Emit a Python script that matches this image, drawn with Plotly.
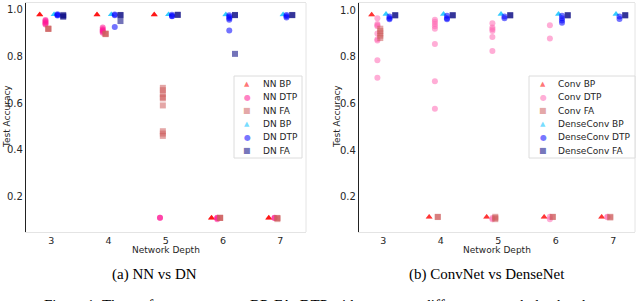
import plotly.graph_objects as go

# ---------------- data ----------------
depths = [3, 4, 5, 6, 7]

# Left panel: NN vs DN (accuracy runs per depth)
nn_bp = [[0.977, 0.977, 0.978], [0.977, 0.977, 0.978], [0.977, 0.977, 0.978], [0.11, 0.11, 0.111], [0.11, 0.11, 0.111]]
nn_dtp = [[0.955, 0.95, 0.945, 0.94, 0.935], [0.922, 0.915, 0.91, 0.905, 0.9], [0.111, 0.111], [0.111, 0.11, 0.104], [0.111, 0.11]]
nn_fa = [[0.918, 0.917, 0.916], [0.897, 0.895, 0.894], [0.665, 0.655, 0.64, 0.625, 0.62, 0.59, 0.48, 0.47, 0.46], [0.111, 0.11, 0.11], [0.11, 0.105, 0.11]]
dn_bp = [[0.978, 0.978], [0.978, 0.978], [0.978, 0.978], [0.978, 0.977], [0.978, 0.977]]
dn_dtp = [[0.979, 0.976, 0.974], [0.978, 0.975, 0.925], [0.977, 0.972, 0.97], [0.975, 0.968, 0.962, 0.956, 0.91], [0.976, 0.97, 0.965]]
dn_fa = [[0.976, 0.972, 0.968], [0.976, 0.975, 0.95], [0.977, 0.976], [0.976, 0.975, 0.81], [0.976, 0.975]]

# Right panel: ConvNet vs DenseNet
conv_bp = [[0.98, 0.98], [0.114, 0.114], [0.114, 0.114], [0.114, 0.114], [0.114, 0.114]]
conv_dtp = [[0.965, 0.94, 0.935, 0.93, 0.9, 0.875, 0.87, 0.785, 0.71],
            [0.958, 0.95, 0.94, 0.93, 0.92, 0.855, 0.695, 0.577],
            [0.943, 0.925, 0.918, 0.91, 0.885, 0.825, 0.105, 0.11],
            [0.935, 0.878, 0.105, 0.115],
            [0.115, 0.113]]
conv_fa = [[0.92, 0.91, 0.9, 0.89, 0.88], [0.115, 0.114], [0.115, 0.11, 0.105], [0.115, 0.114], [0.115, 0.112]]
dc_bp = [[0.983, 0.982], [0.983, 0.982], [0.983, 0.982], [0.983, 0.982], [0.983, 0.982]]
dc_dtp = [[0.972, 0.965, 0.96], [0.975, 0.965, 0.96], [0.972, 0.965], [0.975, 0.965, 0.955, 0.945], [0.972, 0.962]]
dc_fa = [[0.978, 0.977], [0.978, 0.977], [0.978, 0.977], [0.978, 0.977], [0.978, 0.977]]

left_names = ["NN BP", "NN DTP", "NN FA", "DN BP", "DN DTP", "DN FA"]
right_names = ["Conv BP", "Conv DTP", "Conv FA", "DenseConv BP", "DenseConv DTP", "DenseConv FA"]
y_ticks = [0.2, 0.4, 0.6, 0.8, 1.0]

# ---------------- style ----------------
offsets = [-0.2, -0.1, -0.05, 0.05, 0.11, 0.21]
symbols = ["triangle-up", "circle", "square", "triangle-up", "circle", "square"]
left_colors = ["#ff0000", "#ff1493", "#cd5c5c", "#00bfff", "#0000ff", "#000080"]
right_colors = ["#ff0000", "#ff69b4", "#cd5c5c", "#00bfff", "#0000ff", "#000080"]
OP = 0.55

W, H = 640, 301
fig = go.Figure()

def add_panel(series, colors, xa, ya):
    for i, runs in enumerate(series):
        xs, ys = [], []
        for d, vals in zip(depths, runs):
            for v in vals:
                xs.append(d + offsets[i])
                ys.append(v)
        fig.add_trace(go.Scatter(
            x=xs, y=ys, mode="markers", xaxis=xa, yaxis=ya, showlegend=False,
            marker=dict(symbol=symbols[i], size=6, color=colors[i], opacity=OP,
                        line=dict(width=0)),
        ))

add_panel([nn_bp, nn_dtp, nn_fa, dn_bp, dn_dtp, dn_fa], left_colors, "x", "y")
add_panel([conv_bp, conv_dtp, conv_fa, dc_bp, dc_dtp, dc_fa], right_colors, "x2", "y2")

def px(x):
    return x / W

def py(y):
    return 1 - y / H

L = (26, 306)
R = (359, 635)
TOP, BOT = 3, 232

tickfont = dict(family="DejaVu Sans", size=10, color="#262626")
xtickfont = dict(family="DejaVu Sans", size=9.5, color="#262626")
ax_common = dict(showgrid=False, zeroline=False, ticks="")

fig.update_layout(
    width=W, height=H, margin=dict(l=0, r=0, t=0, b=0),
    paper_bgcolor="white", plot_bgcolor="white",
    xaxis=dict(domain=[px(L[0]), px(L[1])], range=[2.56, 7.45], tickvals=depths, tickfont=xtickfont,
               showline=True, linecolor="#e4e4e4", mirror=True, anchor="y", **ax_common),
    yaxis=dict(domain=[py(BOT), py(TOP)], range=[0.05, 1.027], tickvals=y_ticks, tickformat=".1f",
               tickfont=tickfont,
               showline=True, linecolor="#222222", linewidth=1.3, anchor="x", **ax_common),
    xaxis2=dict(domain=[px(R[0]), px(R[1])], range=[2.58, 7.38], tickvals=depths, tickfont=xtickfont,
                showline=True, linecolor="#e4e4e4", mirror=True, anchor="y2", **ax_common),
    yaxis2=dict(domain=[py(BOT), py(TOP)], range=[0.05, 1.03], tickvals=y_ticks, tickformat=".1f",
                tickfont=tickfont,
                showline=True, linecolor="#222222", linewidth=1.3, anchor="x2", **ax_common),
)

shapes = []
annots = []
lab_font = dict(family="DejaVu Sans", size=9, color="#262626")
for (x0, x1) in (L, R):
    # right light frame edge
    shapes.append(dict(type="line", xref="paper", yref="paper", x0=px(x1), x1=px(x1),
                       y0=py(BOT), y1=py(TOP), line=dict(color="#e4e4e4", width=1), layer="below"))
    annots.append(dict(text="Network Depth", xref="paper", yref="paper", x=px((x0 + x1) / 2), y=py(250),
                       xanchor="center", yanchor="middle", showarrow=False, font=lab_font))
annots.append(dict(text="Test Accuracy", xref="paper", yref="paper", x=px(7), y=py(117), textangle=-90,
                   xanchor="center", yanchor="middle", showarrow=False, font=lab_font))
annots.append(dict(text="Test Accuracy", xref="paper", yref="paper", x=px(337), y=py(117), textangle=-90,
                   xanchor="center", yanchor="middle", showarrow=False, font=lab_font))

# legends (manual, compact)
glyph = {"triangle-up": "▲", "circle": "●", "square": "■"}
gsize = {"triangle-up": 7, "circle": 8, "square": 8}

def hex_rgba(h, a):
    h = h.lstrip("#")
    return "rgba(%d,%d,%d,%.2f)" % (int(h[0:2], 16), int(h[2:4], 16), int(h[4:6], 16), a)

def add_legend(bx0, bx1, mx, tx, names, colors):
    shapes.append(dict(type="rect", xref="paper", yref="paper", x0=px(bx0), x1=px(bx1),
                       y0=py(158), y1=py(76), line=dict(color="#dcdcdc", width=1),
                       fillcolor="rgba(255,255,255,0.9)", layer="above"))
    for k, (n, c) in enumerate(zip(names, colors)):
        yy = 84 + k * 13.3
        annots.append(dict(text=glyph[symbols[k]], xref="paper", yref="paper", x=px(mx), y=py(yy),
                           xanchor="center", yanchor="middle", showarrow=False,
                           font=dict(family="DejaVu Sans", size=gsize[symbols[k]], color=hex_rgba(c, 0.55))))
        annots.append(dict(text=n, xref="paper", yref="paper", x=px(tx), y=py(yy),
                           xanchor="left", yanchor="middle", showarrow=False, font=lab_font))

add_legend(234, 302, 247, 261, left_names, left_colors)
add_legend(529, 635, 543, 556, right_names, right_colors)

cap_font = dict(family="Liberation Serif", size=15, color="black")
annots.append(dict(text="(a) NN vs DN", xref="paper", yref="paper", x=px(154), y=py(274),
                   xanchor="center", yanchor="middle", showarrow=False, font=cap_font))
annots.append(dict(text="(b) ConvNet vs DenseNet", xref="paper", yref="paper", x=px(487), y=py(274),
                   xanchor="center", yanchor="middle", showarrow=False, font=cap_font))
annots.append(dict(text="Figure 1: The performance across BP, FA, DTP with respect to different network depths, the",
                   xref="paper", yref="paper", x=px(42), y=py(294.5), xanchor="left", yanchor="top",
                   showarrow=False, font=cap_font))

fig.update_layout(shapes=shapes, annotations=annots)
fig.write_html("out.html", config={"displayModeBar": False},
               post_script="document.body.style.margin='0px';document.body.style.overflow='hidden';")
